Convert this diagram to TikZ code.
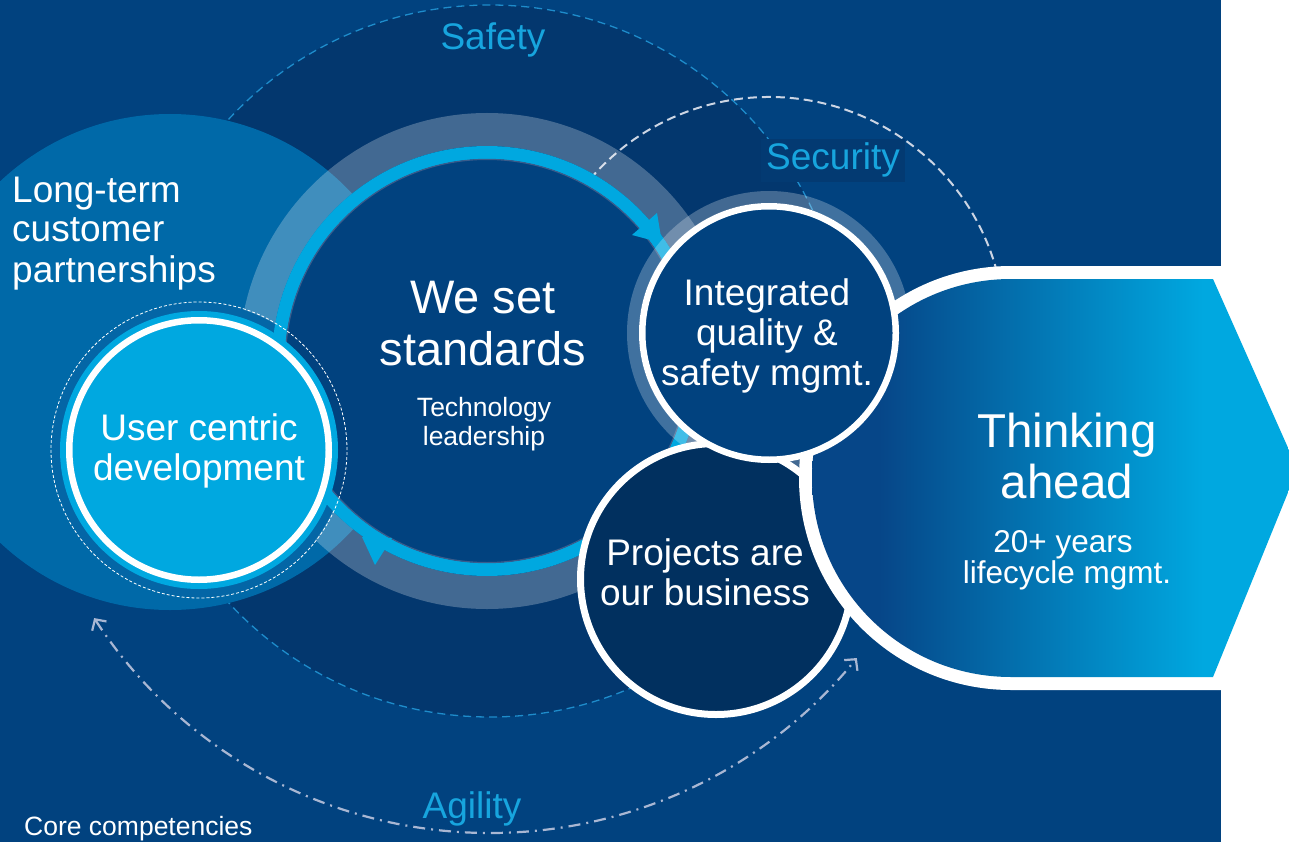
\documentclass[tikz,border=0pt]{standalone}
\usepackage{fontspec}
\setmainfont{Liberation Sans}
\usetikzlibrary{arrows.meta}
\definecolor{bgblue}{HTML}{01427F}
\definecolor{safetydark}{HTML}{03376E}
\definecolor{longterm}{HTML}{0069A8}
\definecolor{usermid}{HTML}{0466A6}
\definecolor{cyanc}{HTML}{00A8E0}
\definecolor{labelcyan}{HTML}{17A5DE}
\definecolor{projfill}{HTML}{01305F}
\definecolor{thinkdark}{HTML}{064688}
\definecolor{safetydash}{HTML}{1E8CCB}
\definecolor{securitydash}{HTML}{CCD5E4}
\definecolor{agilityc}{HTML}{A9B7D3}
\definecolor{shadowc}{HTML}{3A5C8C}
\definecolor{secbox}{HTML}{033A72}
\pgfdeclarehorizontalshading{thinkshade}{100bp}{color(0bp)=(thinkdark); color(32bp)=(thinkdark); color(66bp)=(cyanc); color(100bp)=(cyanc)}
\newcommand{\myfs}[1]{\fontsize{#1}{#1}\selectfont}
\begin{document}
\begin{tikzpicture}[x=1pt,y=1pt,
  txt/.style={text=white, inner sep=0pt},
  lbl/.style={text=labelcyan, inner sep=0pt},
  whitering/.style={white, fill opacity=.25, even odd rule}]
\useasboundingbox (0,0) rectangle (1289,-842);
\fill[white] (0,0) rectangle (1289,-842);
\fill[bgblue] (0,0) rectangle (1221,-842);
\coordinate (O) at (490,-361);
\coordinate (R) at (487,-361);
\coordinate (U) at (199,-450);
\coordinate (I) at (769,-333);
\coordinate (P) at (716,-579);
\coordinate (T) at (1011,-478);
% agility arc
\draw[agilityc, line width=2.2, dash pattern=on 12pt off 6pt on 2pt off 6pt, {Straight Barb[length=8pt,width=17pt]}-{Straight Barb[length=8pt,width=17pt]}]
  ([shift={(213:472)}]O) arc[start angle=213,end angle=321,radius=472];
% safety disc
\fill[safetydark] (O) circle[radius=356];
\draw[safetydash, line width=1.3, dash pattern=on 8pt off 5pt] (O) circle[radius=356];
% long-term disc
\fill[longterm] (170,-362) circle[radius=248];
% security arc
\draw[securitydash, line width=2, dash pattern=on 9pt off 5pt]
  ([shift={(8:236)}]I) arc[start angle=8,end angle=141,radius=236];
% big ring
\fill[whitering] (R) circle[radius=248] (R) circle[radius=215];
\fill[usermid] (U) circle[radius=147];
\fill[bgblue] (R) circle[radius=202];
\draw[cyanc, line width=13] (R) circle[radius=208.5];
\draw[shadowc, line width=1.2] (R) circle[radius=201.6];
\fill[cyanc] (632,-235) -- (657,-213) -- (662,-243) -- cycle;
\fill[cyanc] (362,-537) -- (392,-538) -- (375,-565) -- cycle;
% user circle
\draw[white, line width=0.8, dash pattern=on 3pt off 2pt] (U) circle[radius=148];
\fill[cyanc] (U) circle[radius=139];
\draw[white, line width=6.5, fill=cyanc] (U) circle[radius=129.75];
% integrated ring, projects
\fill[whitering] (I) circle[radius=142] (I) circle[radius=130];
\draw[white, line width=7, fill=projfill] (P) circle[radius=135.5];
% thinking ahead shape
\fill[white] (1011,-266) -- (1221,-266) -- (1221,-690) -- (1011,-690)
  arc[start angle=270,end angle=90,radius=212] -- cycle;
\shade[shading=thinkshade] (1011,-279) -- (1213,-279) -- (1289,-450) -- (1289,-490) -- (1213,-677) -- (1011,-677)
  arc[start angle=270,end angle=90,radius=199] -- cycle;
% integrated circle on top
\draw[white, line width=6.5, fill=bgblue] (I) circle[radius=126.75];
% texts
\node[lbl, font=\myfs{37}, anchor=base] (safety) at (493,-50) {Safety};
\node[lbl, font=\myfs{37}, anchor=base, fill=secbox, inner xsep=5pt, inner ysep=4pt] (security) at (833,-170) {Security};
\node[lbl, font=\myfs{37}, anchor=base] (agility) at (472,-818) {Agility};
\node[txt, font=\myfs{37}, anchor=base west] (lt1) at (12,-203) {Long-term};
\node[txt, font=\myfs{37}, anchor=base west] (lt2) at (12,-242) {customer};
\node[txt, font=\myfs{37}, anchor=base west] (lt3) at (12,-282) {partnerships};
\node[txt, font=\myfs{47}, anchor=base] (ws1) at (483,-313) {We set};
\node[txt, font=\myfs{47}, anchor=base] (ws2) at (483,-365) {standards};
\node[txt, font=\myfs{26.5}, anchor=base] (tl1) at (484,-416) {Technology};
\node[txt, font=\myfs{26.5}, anchor=base] (tl2) at (484,-445) {leadership};
\node[txt, font=\myfs{37}, anchor=base] (iq1) at (767,-305) {Integrated};
\node[txt, font=\myfs{37}, anchor=base] (iq2) at (767,-345) {quality \&};
\node[txt, font=\myfs{37}, anchor=base] (iq3) at (767,-385) {safety mgmt.};
\node[txt, font=\myfs{37}, anchor=base] (uc1) at (199,-440) {User centric};
\node[txt, font=\myfs{37}, anchor=base] (uc2) at (199,-480) {development};
\node[txt, font=\myfs{37}, anchor=base] (pb1) at (705,-565) {Projects are};
\node[txt, font=\myfs{37}, anchor=base] (pb2) at (705,-605) {our business};
\node[txt, font=\myfs{47.5}, anchor=base] (th1) at (1067,-447) {Thinking};
\node[txt, font=\myfs{47.5}, anchor=base] (th2) at (1067,-498) {ahead};
\node[txt, font=\myfs{31.5}, anchor=base] (ly1) at (1063,-552) {20+ years};
\node[txt, font=\myfs{31.5}, anchor=base] (ly2) at (1067,-583) {lifecycle mgmt.};
\node[txt, font=\myfs{26.5}, anchor=base west] (core) at (24,-835) {Core competencies};
\end{tikzpicture}
\end{document}
